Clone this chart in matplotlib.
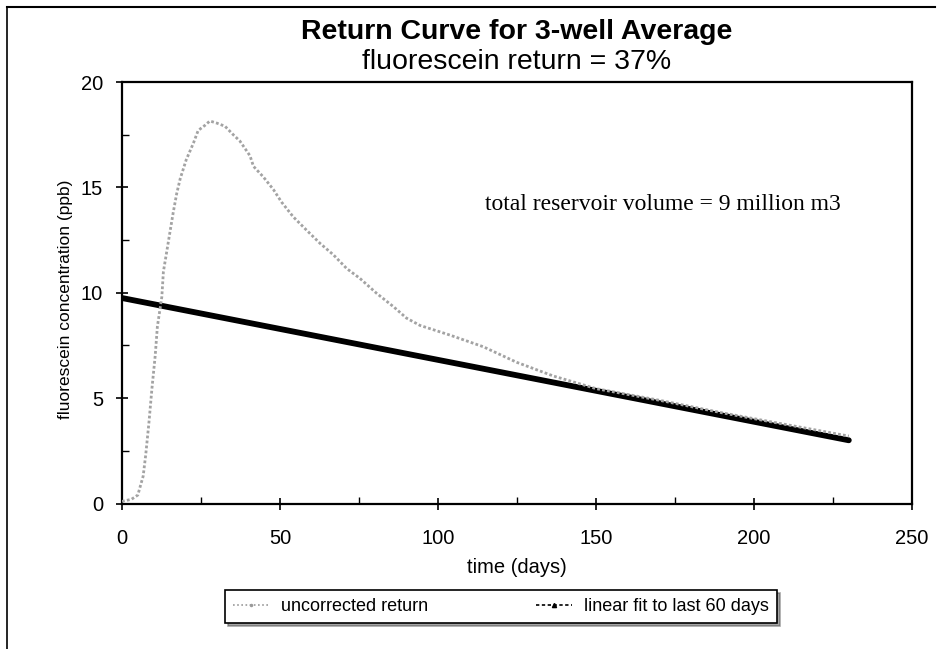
import matplotlib
matplotlib.use("Agg")
import matplotlib.pyplot as plt
from matplotlib.lines import Line2D
from matplotlib.ticker import MultipleLocator

# ---- data ----
days = [0, 3, 5, 6.7, 7.5, 8.5, 9.5, 10.5, 11.2, 12.6, 13.1, 14.1, 15.2, 16.2, 17.3,
        18.4, 20.3, 22.6, 24.1, 26.3, 27.8, 30.0, 32.6, 35.2, 37.3, 40.5, 41.6, 44.7,
        47.9, 50.5, 54.2, 58.4, 62.7, 66.9, 71.1, 75.3, 80.6, 85.9, 90.0, 94.3, 103.8,
        114.3, 124.9, 136.5, 150, 170, 190, 210, 230]
conc = [0.1, 0.2, 0.4, 1.3, 2.3, 3.8, 5.5, 7.0, 8.4, 9.8, 11.0, 11.9, 12.9, 13.8, 14.7,
        15.4, 16.3, 17.1, 17.7, 17.95, 18.15, 18.05, 17.9, 17.5, 17.2, 16.5, 16.0, 15.5,
        14.9, 14.3, 13.6, 12.97, 12.34, 11.8, 11.15, 10.68, 9.97, 9.34, 8.8, 8.45, 7.99,
        7.44, 6.7, 6.05, 5.45, 4.9, 4.3, 3.75, 3.2]
fit_days = [0, 230]
fit_conc = [9.75, 3.0]

title = "Return Curve for 3-well Average"
subtitle = "fluorescein return = 37%"
annotation = "total reservoir volume = 9 million m3"
series_labels = ["uncorrected return", "linear fit to last 60 days"]

W, H = 952, 649
fig = plt.figure(figsize=(W / 100, H / 100), dpi=100)
plt.rcParams['font.family'] = ['Liberation Sans', 'DejaVu Sans']

ax = fig.add_axes([122 / W, 1 - 503.5 / H, (912 - 122) / W, (503.5 - 82) / H])

ax.plot(fit_days, fit_conc, color='black', lw=4.2, solid_capstyle='round', zorder=2)
ax.plot(days, conc, color='#a3a3a3', lw=2.0, ls=(0, (1, 0.8)), zorder=3)

ax.set_xlim(0, 250)
ax.set_ylim(0, 20)
ax.xaxis.set_major_locator(MultipleLocator(50))
ax.xaxis.set_minor_locator(MultipleLocator(25))
ax.yaxis.set_major_locator(MultipleLocator(5))
ax.yaxis.set_minor_locator(MultipleLocator(2.5))
ax.tick_params(which='major', direction='inout', length=9, width=1.2, labelsize=14.5)
ax.tick_params(axis='x', which='major', pad=14)
ax.tick_params(axis='y', which='major', pad=9)
ax.tick_params(which='minor', direction='in', length=5, width=1.0)
for s in ax.spines.values():
    s.set_linewidth(1.6)

ax.set_xlabel("time (days)", fontsize=14.5, labelpad=7)
ax.set_ylabel("fluorescein concentration (ppb)", fontsize=12.5, labelpad=4)
ax.yaxis.set_label_coords(-0.062, 0.485)

ax.text(115, 14.2, annotation, fontsize=17, family=['Liberation Serif', 'DejaVu Serif'],
        va='center', ha='left')

fig.text(517 / W, 1 - 39 / H, title, fontsize=20.5, fontweight='bold', ha='center', va='baseline')
fig.text(517 / W, 1 - 69 / H, subtitle, fontsize=20.5, ha='center', va='baseline')

handles = [
    Line2D([], [], color='#9a9a9a', lw=1.2, ls=(0, (1, 1.5)), marker='.', markersize=3),
    Line2D([], [], color='black', lw=1.2, ls=(0, (2, 1.5)), marker='^', markersize=3),
]
leg = fig.legend(handles, series_labels, loc='center', bbox_to_anchor=(501 / W, 1 - 606.5 / H),
                 ncol=2, fontsize=13, frameon=True, fancybox=False, shadow=True,
                 handlelength=2.0, handletextpad=0.65, columnspacing=6.0, borderpad=0.45)
leg.get_frame().set_edgecolor('black')
leg.get_frame().set_linewidth(1.2)

# outer frame lines
fig.add_artist(Line2D([7 / W, 7 / W], [0, 1 - 7 / H], color='black', lw=1.2))
fig.add_artist(Line2D([7 / W, 935 / W], [1 - 7 / H, 1 - 7 / H], color='black', lw=1.5))

fig.savefig("out.png", dpi=100)
